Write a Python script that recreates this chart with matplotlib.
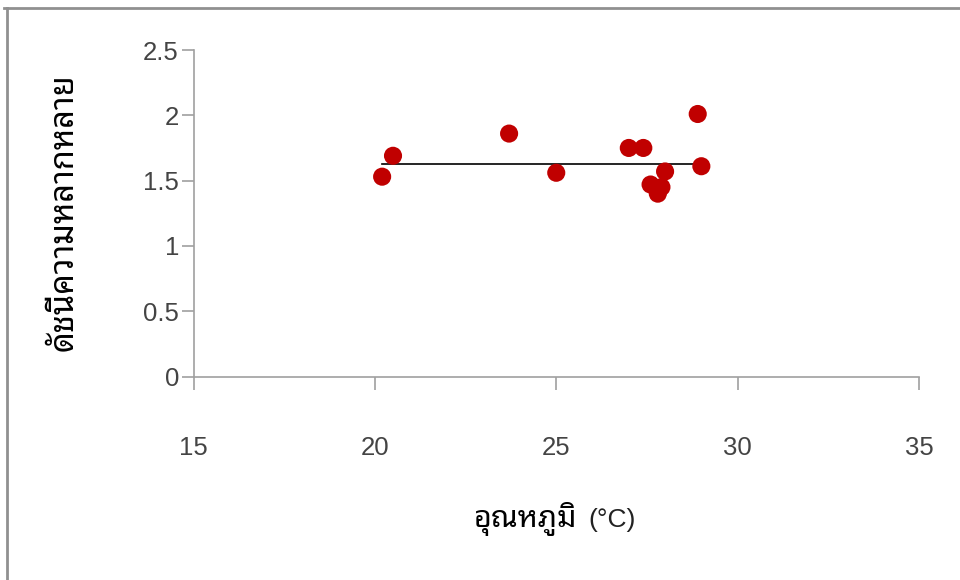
import matplotlib
matplotlib.use("Agg")
import matplotlib.pyplot as plt
from matplotlib.lines import Line2D

# temperature (°C) and diversity index per site
temperature = [20.2, 20.5, 23.7, 25.0, 27.0, 27.4, 28.9, 29.0, 28.0, 27.6, 27.9, 27.8]
diversity = [1.53, 1.69, 1.86, 1.56, 1.75, 1.75, 2.01, 1.61, 1.57, 1.47, 1.45, 1.40]
trend_level = 1.63

x_ticks = [15, 20, 25, 30, 35]
y_ticks = [0, 0.5, 1, 1.5, 2, 2.5]
y_tick_labels = ["0", "0.5", "1", "1.5", "2", "2.5"]

thai_font = ["Noto Sans Thai Looped", "DejaVu Sans"]
num_font = "Liberation Sans"

fig = plt.figure(figsize=(9.6, 5.8), dpi=100)
ax = fig.add_axes([193.5 / 960, (580 - 376.5) / 580, (919 - 193.5) / 960, (376.5 - 50) / 580])

# flat trend line across the temperature range, then the points
ax.plot([min(temperature), max(temperature)], [trend_level, trend_level], color="black", lw=1.2, zorder=2)
ax.scatter(temperature, diversity, s=170, color="#C00000", edgecolors="none", zorder=3)

ax.set_xlim(15, 35)
ax.set_ylim(0, 2.5)
ax.set_xticks(x_ticks)
ax.set_yticks(y_ticks)
ax.set_yticklabels(y_tick_labels)

for side in ["top", "right"]:
    ax.spines[side].set_visible(False)
for side in ["left", "bottom"]:
    ax.spines[side].set_color("#A0A0A0")
    ax.spines[side].set_linewidth(1.2)

ax.tick_params(axis="x", direction="out", length=9.5, width=1.2, color="#A0A0A0", pad=33, labelsize=18.5)
ax.tick_params(axis="y", direction="out", length=8.5, width=1.2, color="#A0A0A0", pad=2, labelsize=18.5)
for lab in ax.get_xticklabels() + ax.get_yticklabels():
    lab.set_fontfamily(num_font)
    lab.set_color("#444444")

# axis titles
fig.text(64 / 960, 1 - 212 / 580, "ดัชนีความหลากหลาย", rotation=90, ha="center", va="center",
         fontsize=23.5, fontweight="bold", family=thai_font)
fig.text(577 / 960, 1 - 527 / 580, "อุณหภูมิ", ha="right", va="baseline",
         fontsize=22, fontweight="bold", family=thai_font)
fig.text(588 / 960, 1 - 527 / 580, "(°C)", ha="left", va="baseline",
         fontsize=19, family=num_font, color="#222222")

# outer frame on the top and left
fig.add_artist(Line2D([4 / 960, 1], [1 - 8 / 580, 1 - 8 / 580], transform=fig.transFigure, color="#909090", lw=2))
fig.add_artist(Line2D([7 / 960, 7 / 960], [0, 1 - 8 / 580], transform=fig.transFigure, color="#909090", lw=2))

fig.savefig("out.png", dpi=100)
